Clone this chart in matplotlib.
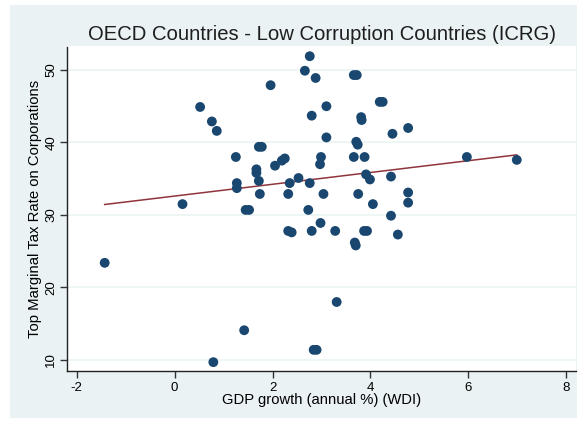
import numpy as np
import matplotlib.pyplot as plt
from matplotlib.patches import Rectangle

plt.rcParams['font.family'] = ['Liberation Sans', 'DejaVu Sans']

# GDP growth (annual %) and top marginal corporate tax rate, one entry per observation
gdp_growth = [-1.43, 0.16, 0.52, 0.76, 0.86, 0.79, 1.25, 1.27, 1.27, 1.42,
              1.45, 1.52, 1.67, 1.67, 1.72, 1.74, 1.72, 1.78, 1.96, 2.05,
              2.19, 2.25, 2.32, 2.35, 2.32, 2.39, 2.53, 2.66, 2.76, 2.88,
              2.80, 2.76, 2.73, 2.80, 2.84, 2.90, 2.98, 2.99, 2.97, 3.04,
              3.10, 3.10, 3.28, 3.31, 3.66, 3.72, 3.66, 3.71, 3.74, 3.75,
              3.68, 3.70, 3.81, 3.82, 3.88, 3.91, 3.99, 3.87, 3.93, 4.05,
              4.19, 4.25, 4.42, 4.45, 4.42, 4.56, 4.77, 4.77, 4.77, 5.97,
              6.99]
tax_rate = [23.4, 31.5, 44.9, 42.9, 41.6, 9.7, 38.0, 34.4, 33.7, 14.1,
            30.7, 30.7, 36.3, 35.8, 34.7, 32.9, 39.4, 39.4, 47.9, 36.8,
            37.5, 37.8, 32.9, 34.4, 27.8, 27.6, 35.1, 49.9, 51.9, 48.9,
            43.7, 34.4, 30.7, 27.8, 11.4, 11.4, 28.9, 38.0, 37.0, 32.9,
            45.0, 40.7, 27.8, 18.0, 49.3, 49.3, 38.0, 40.1, 39.7, 32.9,
            26.2, 25.8, 43.5, 43.1, 38.0, 35.6, 34.9, 27.8, 27.8, 31.5,
            45.6, 45.6, 35.3, 41.2, 29.9, 27.3, 42.0, 33.1, 31.7, 38.0,
            37.6]

# fitted line (lfit) coefficients
fit_intercept = 32.61
fit_slope = 0.813

x_ticks = [-2, 0, 2, 4, 6, 8]
y_ticks = [10, 20, 30, 40, 50]

bg = '#eaf2f3'
navy = '#1a476f'
maroon = '#90353b'

fig = plt.figure(figsize=(5.8, 4.23), dpi=100, facecolor='white')
fig.patches.append(Rectangle((10 / 580, 5 / 423), 567 / 580, 413 / 423,
                             transform=fig.transFigure, facecolor=bg,
                             edgecolor='none', zorder=-10))
ax = fig.add_axes([67 / 580, 1 - 371 / 423, 509 / 580, 324.5 / 423])
ax.set_facecolor('white')

ax.scatter(gdp_growth, tax_rate, s=50, color=navy, edgecolors='none', zorder=3)

# fit line spans the range of the data
xs = np.array([min(gdp_growth), max(gdp_growth)])
ax.plot(xs, fit_intercept + fit_slope * xs, color=maroon, lw=1.1, zorder=2)

ax.set_xlim(-2.2, 8.2)
ax.set_ylim(8.48, 53.24)
ax.set_xticks(x_ticks)
ax.set_yticks(y_ticks)
ax.set_xticklabels([str(t) for t in x_ticks], fontsize=9.5)
ax.set_yticklabels([str(t) for t in y_ticks], fontsize=9.5, rotation=90, va='center')
ax.tick_params(length=5, width=1, color='#333333', pad=3)
ax.tick_params(axis='y', pad=2)
ax.grid(axis='y', color=bg, lw=1.1)
ax.set_axisbelow(True)

for side in ['top', 'right']:
    ax.spines[side].set_visible(False)
for side in ['left', 'bottom']:
    ax.spines[side].set_color('#222222')
    ax.spines[side].set_linewidth(1)

ax.set_xlabel('GDP growth (annual %) (WDI)', fontsize=10.6, labelpad=-1)
ax.set_ylabel('Top Marginal Tax Rate on Corporations', fontsize=10.7, labelpad=2)
ax.set_title('OECD Countries - Low Corruption Countries (ICRG)', fontsize=14.6,
             color='#1e1e1e', pad=5)

fig.savefig('out.png', dpi=100, facecolor=fig.get_facecolor())
